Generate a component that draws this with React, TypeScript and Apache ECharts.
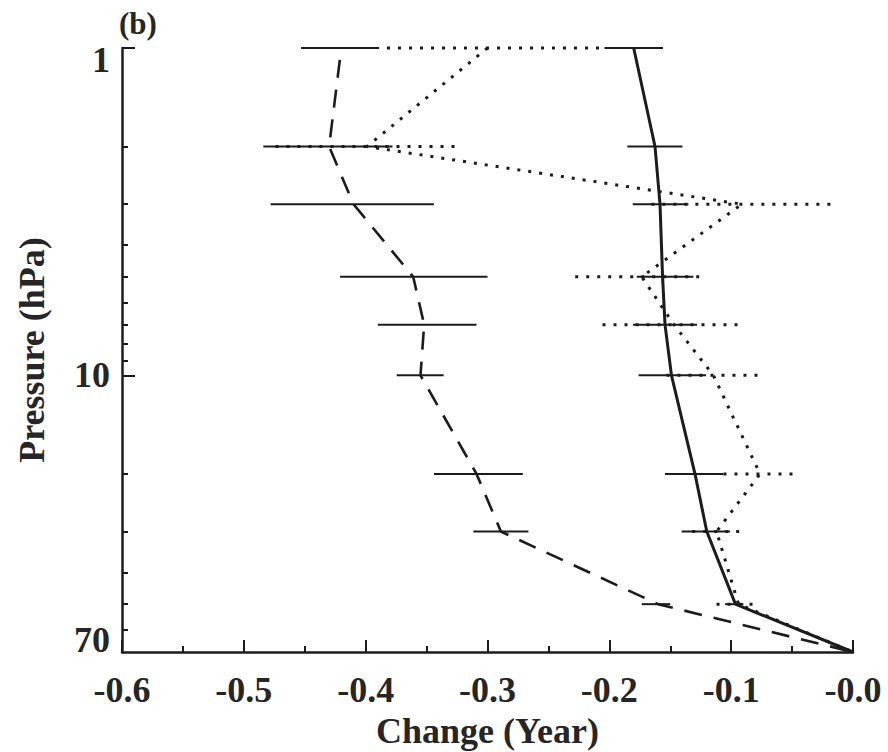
import React, { useEffect, useRef } from "react";
import * as echarts from "echarts";

// Pressure levels (hPa)
const pressureLevels = [1, 2, 3, 5, 7, 10, 20, 30, 50, 70];

// Dashed series (mean and error-bar bounds; error bars for first 9 levels)
const dashedValues = [-0.42, -0.43, -0.41, -0.361, -0.352, -0.355, -0.309, -0.289, -0.16, 0.0];
const dashedLow = [-0.453, -0.484, -0.478, -0.421, -0.39, -0.3745, -0.344, -0.3116, -0.1734];
const dashedHigh = [-0.389, -0.378, -0.344, -0.3, -0.309, -0.336, -0.271, -0.2664, -0.15];

// Solid series
const solidValues = [-0.18, -0.1625, -0.1584, -0.1563, -0.1543, -0.149, -0.1297, -0.12, -0.0965, 0.0];
const solidLow = [-0.204, -0.1852, -0.1808, -0.1775, -0.1806, -0.176, -0.1543, -0.1406, -0.105];
const solidHigh = [-0.156, -0.14, -0.1351, -0.131, -0.128, -0.1206, -0.1064, -0.1009, -0.09];

// Dotted series
const dottedValues = [-0.3, -0.399, -0.0913, -0.1734, -0.147, -0.1146, -0.0763, -0.112, -0.094, 0.0];
const dottedLow = [-0.3825, -0.474, -0.1655, -0.228, -0.2056, -0.1531, -0.1063, -0.132, -0.112];
const dottedHigh = [-0.2052, -0.324, -0.0175, -0.123, -0.0899, -0.0763, -0.0489, -0.0913, -0.0763];

// Axis ticks
const yMajorTickPressures = [1, 10];
const yMinorTickPressures = [2, 3, 4, 5, 6, 7, 8, 9, 20, 30, 40, 50, 60];
const yLabelPressures = [1, 10, 70];

const INK = "#1c1c1c";
const TEXT = "#262626";
const FONT = "'Liberation Serif', 'DejaVu Serif', serif";

export default function App() {
  const ref = useRef<HTMLDivElement>(null);

  useEffect(() => {
    if (!ref.current) return;
    const chart = echarts.init(ref.current, undefined, { renderer: "svg" });
    const lg = (p: number) => Math.log10(p);
    const yMax = lg(70);

    const linePts = (vals: number[]) => vals.map((v, i) => [v, lg(pressureLevels[i])]);

    const errorBars = (low: number[], high: number[], dotted: boolean) => ({
      type: "custom",
      coordinateSystem: "cartesian2d",
      xAxisIndex: 0,
      yAxisIndex: 0,
      silent: true,
      z: 3,
      data: low.map((l, i) => [l, high[i], lg(pressureLevels[i])]),
      encode: { x: [0, 1], y: 2 },
      renderItem: (_params: any, api: any) => {
        const y = api.value(2);
        const a = api.coord([api.value(0), y]);
        const b = api.coord([api.value(1), y]);
        return {
          type: "line",
          shape: { x1: a[0], y1: a[1], x2: b[0], y2: b[1] },
          style: {
            stroke: INK,
            lineWidth: dotted ? 3 : 2,
            lineDash: dotted ? [3, 8] : null,
          },
        };
      },
    });

    const labelText = (v: number) => {
      if (v < 0.5) return "{top|1}";
      if (v < 1.5) return "{mid|10}";
      return "{bot|70}";
    };
    const richBase = { fontSize: 36, fontWeight: "bold", fontFamily: FONT, color: TEXT };

    chart.setOption({
      animation: false,
      backgroundColor: "#ffffff",
      title: {
        text: "(b)",
        left: 119,
        top: 8,
        padding: 0,
        textStyle: { fontSize: 31, fontWeight: "bold", fontFamily: FONT, color: TEXT },
      },
      grid: { left: 122, right: 35, top: 48, bottom: 100, outerBoundsMode: "none" },
      xAxis: {
        type: "value",
        min: -0.6,
        max: 0,
        interval: 0.1,
        position: "bottom",
        name: "Change (Year)",
        nameLocation: "middle",
        nameGap: 58,
        nameTextStyle: { fontSize: 36, fontWeight: "bold", fontFamily: FONT, color: TEXT },
        axisLine: { show: true, onZero: false, lineStyle: { color: INK, width: 2.5 } },
        axisTick: { show: true, inside: true, length: 12, lineStyle: { color: INK, width: 2 } },
        minorTick: { show: true, splitNumber: 2, length: 6, lineStyle: { color: INK, width: 2 } },
        splitLine: { show: false },
        minorSplitLine: { show: false },
        axisLabel: {
          margin: 20,
          fontSize: 36,
          fontWeight: "bold",
          fontFamily: FONT,
          color: TEXT,
          formatter: (v: number) => (Math.abs(v) < 1e-9 ? "-0.0" : v.toFixed(1)),
        },
      },
      yAxis: [
        {
          type: "value",
          inverse: true,
          min: 0,
          max: yMax,
          position: "left",
          offset: 0,
          name: "Pressure (hPa)",
          nameLocation: "middle",
          nameGap: 72,
          nameTextStyle: { fontSize: 36, fontWeight: "bold", fontFamily: FONT, color: TEXT },
          axisLine: { show: true, onZero: false, lineStyle: { color: INK, width: 2.5 } },
          axisTick: {
            show: true,
            inside: true,
            length: 13,
            customValues: yMajorTickPressures.map(lg),
            lineStyle: { color: INK, width: 2 },
          },
          splitLine: { show: false },
          axisLabel: {
            margin: 12,
            customValues: yLabelPressures.map(lg),
            formatter: labelText,
            rich: {
              top: { ...richBase, padding: [24, 0, 0, 0] },
              mid: { ...richBase },
              bot: { ...richBase, padding: [0, 0, 24, 0] },
            },
            ...richBase,
          },
        },
        {
          type: "value",
          inverse: true,
          min: 0,
          max: yMax,
          position: "left",
          offset: 0,
          axisLine: { show: false, onZero: false },
          axisLabel: { show: false },
          splitLine: { show: false },
          axisTick: {
            show: true,
            inside: true,
            length: 6,
            customValues: yMinorTickPressures.map(lg),
            lineStyle: { color: INK, width: 2 },
          },
        },
      ],
      series: [
        {
          type: "line",
          data: linePts(dashedValues),
          showSymbol: false,
          symbol: "none",
          z: 4,
          lineStyle: { color: INK, width: 2.6, type: [18, 12], dashOffset: 18 },
        },
        {
          type: "line",
          data: linePts(solidValues),
          showSymbol: false,
          symbol: "none",
          z: 4,
          lineStyle: { color: INK, width: 3 },
        },
        {
          type: "line",
          data: linePts(dottedValues),
          showSymbol: false,
          symbol: "none",
          z: 4,
          lineStyle: { color: INK, width: 3, type: [3, 8] },
        },
        errorBars(dashedLow, dashedHigh, false),
        errorBars(solidLow, solidHigh, false),
        errorBars(dottedLow, dottedHigh, true),
      ],
    });

    return () => chart.dispose();
  }, []);

  return (
    <div
      ref={ref}
      style={{ position: "fixed", left: 0, top: 0, width: 888, height: 752, background: "#fff" }}
    />
  );
}
